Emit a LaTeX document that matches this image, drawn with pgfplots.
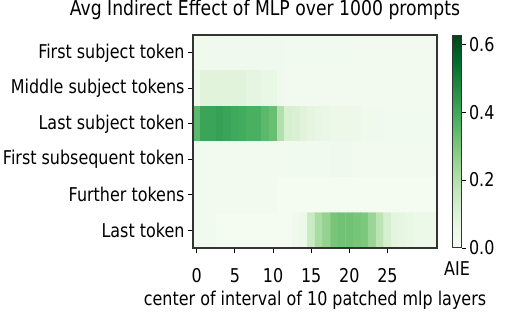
\documentclass[border=0pt]{standalone}
\usepackage{fontspec}
\setmainfont{DejaVu Sans}[FakeStretch=0.84]
\usepackage{pgfplots}
\pgfplotsset{compat=1.18}
\pgfplotsset{
  colormap={greens}{rgb255(0)=(247,252,245) rgb255(1)=(229,245,224) rgb255(2)=(199,233,192) rgb255(3)=(161,217,155) rgb255(4)=(116,196,118) rgb255(5)=(65,171,93) rgb255(6)=(35,139,69) rgb255(7)=(0,109,44) rgb255(8)=(0,68,27)}
}
\newcommand{\lbl}{\fontsize{19bp}{21bp}\selectfont}
\begin{document}
\begin{tikzpicture}
\path[use as bounding box] (0,0) rectangle (521bp,-315bp);
\begin{axis}[
  at={(193bp,-248bp)}, anchor=south west,
  width=244bp, height=213bp, scale only axis,
  xmin=-0.5, xmax=31.5, ymin=-0.5, ymax=5.5, y dir=reverse,
  xtick={0,5,...,25}, ytick={0,...,5},
  yticklabels={First subject token, Middle subject tokens, Last subject token, First subsequent token, Further tokens, Last token},
  tick align=outside, major tick length=5bp, xtick pos=bottom, ytick pos=left,
  tick style={black, line width=0.9bp},
  axis line style={line width=1.1bp, draw=black!80},
  ticklabel style={font=\lbl},
  xticklabel style={anchor=base, yshift=-29bp},
  /pgf/number format/assume math mode=true,
  axis on top,
  colormap name=greens, point meta min=0, point meta max=0.627,
  colorbar,
  colorbar style={
    at={(parent axis.north east)}, anchor=north west, xshift=7bp,
    width=9bp,
    ytick={0,0.2,0.4,0.6},
    yticklabel style={font=\lbl, /pgf/number format/.cd, fixed, fixed zerofill, precision=1, /pgf/number format/assume math mode=true},
    tick align=outside, major tick length=4bp, ytick pos=right,
    tick style={black, line width=0.9bp},
    axis line style={line width=1bp, draw=black!80},
  },
  title={Avg Indirect Effect of MLP over 1000 prompts},
  title style={font=\fontsize{20.5bp}{22bp}\selectfont, at={(0.5,1)}, anchor=base, xshift=-50bp, yshift=14bp},
  xlabel={center of interval of 10 patched mlp layers},
  xlabel style={font=\lbl, at={(0.5,0)}, anchor=base, yshift=-57bp},
]
\addplot[matrix plot*, mesh/cols=32, point meta=explicit] table[meta=c, row sep=\\] {
x y c\\
0 0 0.035\\ 1 0 0.035\\ 2 0 0.035\\ 3 0 0.03\\ 4 0 0.03\\ 5 0 0.03\\ 6 0 0.03\\ 7 0 0.03\\ 8 0 0.03\\ 9 0 0.03\\ 10 0 0.03\\ 11 0 0.03\\ 12 0 0.025\\ 13 0 0.025\\ 14 0 0.025\\ 15 0 0.025\\ 16 0 0.025\\ 17 0 0.025\\ 18 0 0.025\\ 19 0 0.025\\ 20 0 0.025\\ 21 0 0.02\\ 22 0 0.02\\ 23 0 0.02\\ 24 0 0.02\\ 25 0 0.02\\ 26 0 0.02\\ 27 0 0.02\\ 28 0 0.02\\ 29 0 0.02\\ 30 0 0.02\\ 31 0 0.02\\
0 1 0.05\\ 1 1 0.09\\ 2 1 0.09\\ 3 1 0.09\\ 4 1 0.09\\ 5 1 0.09\\ 6 1 0.09\\ 7 1 0.075\\ 8 1 0.075\\ 9 1 0.06\\ 10 1 0.06\\ 11 1 0.035\\ 12 1 0.02\\ 13 1 0.02\\ 14 1 0.02\\ 15 1 0.02\\ 16 1 0.02\\ 17 1 0.02\\ 18 1 0.02\\ 19 1 0.02\\ 20 1 0.02\\ 21 1 0.02\\ 22 1 0.02\\ 23 1 0.02\\ 24 1 0.02\\ 25 1 0.02\\ 26 1 0.02\\ 27 1 0.02\\ 28 1 0.02\\ 29 1 0.02\\ 30 1 0.02\\ 31 1 0.02\\
0 2 0.35\\ 1 2 0.41\\ 2 2 0.41\\ 3 2 0.42\\ 4 2 0.41\\ 5 2 0.40\\ 6 2 0.39\\ 7 2 0.38\\ 8 2 0.38\\ 9 2 0.35\\ 10 2 0.33\\ 11 2 0.20\\ 12 2 0.12\\ 13 2 0.11\\ 14 2 0.09\\ 15 2 0.075\\ 16 2 0.065\\ 17 2 0.055\\ 18 2 0.05\\ 19 2 0.045\\ 20 2 0.045\\ 21 2 0.04\\ 22 2 0.035\\ 23 2 0.035\\ 24 2 0.03\\ 25 2 0.025\\ 26 2 0.025\\ 27 2 0.025\\ 28 2 0.025\\ 29 2 0.025\\ 30 2 0.025\\ 31 2 0.025\\
0 3 0.02\\ 1 3 0.02\\ 2 3 0.02\\ 3 3 0.02\\ 4 3 0.02\\ 5 3 0.02\\ 6 3 0.02\\ 7 3 0.02\\ 8 3 0.02\\ 9 3 0.02\\ 10 3 0.02\\ 11 3 0.02\\ 12 3 0.02\\ 13 3 0.025\\ 14 3 0.025\\ 15 3 0.025\\ 16 3 0.025\\ 17 3 0.025\\ 18 3 0.03\\ 19 3 0.03\\ 20 3 0.03\\ 21 3 0.02\\ 22 3 0.02\\ 23 3 0.02\\ 24 3 0.02\\ 25 3 0.02\\ 26 3 0.02\\ 27 3 0.02\\ 28 3 0.02\\ 29 3 0.02\\ 30 3 0.02\\ 31 3 0.02\\
0 4 0.02\\ 1 4 0.02\\ 2 4 0.02\\ 3 4 0.02\\ 4 4 0.02\\ 5 4 0.02\\ 6 4 0.02\\ 7 4 0.02\\ 8 4 0.02\\ 9 4 0.02\\ 10 4 0.02\\ 11 4 0.015\\ 12 4 0.015\\ 13 4 0.015\\ 14 4 0.015\\ 15 4 0.015\\ 16 4 0.015\\ 17 4 0.015\\ 18 4 0.015\\ 19 4 0.015\\ 20 4 0.015\\ 21 4 0.015\\ 22 4 0.015\\ 23 4 0.015\\ 24 4 0.015\\ 25 4 0.015\\ 26 4 0.015\\ 27 4 0.015\\ 28 4 0.015\\ 29 4 0.015\\ 30 4 0.015\\ 31 4 0.015\\
0 5 0.02\\ 1 5 0.025\\ 2 5 0.025\\ 3 5 0.015\\ 4 5 0.015\\ 5 5 0.015\\ 6 5 0.015\\ 7 5 0.015\\ 8 5 0.015\\ 9 5 0.015\\ 10 5 0.015\\ 11 5 0.015\\ 12 5 0.015\\ 13 5 0.03\\ 14 5 0.05\\ 15 5 0.15\\ 16 5 0.22\\ 17 5 0.26\\ 18 5 0.31\\ 19 5 0.32\\ 20 5 0.32\\ 21 5 0.31\\ 22 5 0.30\\ 23 5 0.25\\ 24 5 0.18\\ 25 5 0.12\\ 26 5 0.08\\ 27 5 0.07\\ 28 5 0.06\\ 29 5 0.05\\ 30 5 0.05\\ 31 5 0.045\\
};
\end{axis}
\node[font=\lbl, anchor=base] at (457bp,-275bp) {AIE};
\end{tikzpicture}
\end{document}
